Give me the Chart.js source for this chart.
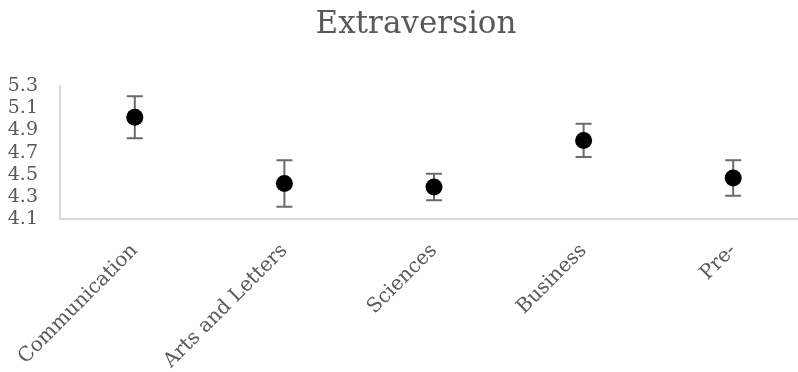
<!DOCTYPE html>
<html>
<head>
<meta charset="utf-8">
<script src="https://cdn.jsdelivr.net/npm/chart.js@4/dist/chart.umd.min.js"></script>
<style>
  body { margin: 0; background: #fff; overflow: hidden; }
  #wrap { width: 798px; height: 372px; overflow: hidden; }
</style>
</head>
<body>
<div id="wrap"><canvas id="myChart" width="808" height="372"></canvas></div>
<script>
const categories = ["Communication", "Arts and Letters", "Sciences", "Business", "Pre-"];
const means = [5.02, 4.42, 4.39, 4.81, 4.47];
const errors = [0.19, 0.21, 0.12, 0.15, 0.16];
const yMin = 4.1;
const yMax = 5.3;
const yStep = 0.2;

const textColor = "#595959";
const serif = "'DejaVu Serif', 'Liberation Serif', serif";

// draws the +/- error whiskers under each point
const errorBars = {
  id: "errorBars",
  afterLayout(chart) {
    // let the y labels use the space left of the title padding
    chart.scales.y.left = 0;
  },
  beforeDatasetsDraw(chart) {
    const ctx = chart.ctx;
    const x = chart.scales.x;
    const y = chart.scales.y;
    ctx.save();
    ctx.strokeStyle = "#6b6b6b";
    ctx.lineWidth = 2;
    means.forEach((m, i) => {
      const px = x.getPixelForValue(i);
      const top = y.getPixelForValue(m + errors[i]);
      const bot = y.getPixelForValue(m - errors[i]);
      ctx.beginPath();
      ctx.moveTo(px, top);
      ctx.lineTo(px, bot);
      ctx.moveTo(px - 8, top);
      ctx.lineTo(px + 8, top);
      ctx.moveTo(px - 8, bot);
      ctx.lineTo(px + 8, bot);
      ctx.stroke();
    });
    ctx.restore();
  }
};

new Chart("myChart", {
  type: "line",
  data: {
    labels: categories,
    datasets: [{
      data: means,
      showLine: false,
      pointRadius: 8.5,
      pointHoverRadius: 8.5,
      pointBackgroundColor: "#000",
      pointBorderColor: "#000",
      pointBorderWidth: 0
    }]
  },
  options: {
    responsive: false,
    animation: false,
    layout: { autoPadding: false, padding: { left: 24, right: 0, top: 0, bottom: 0 } },
    plugins: {
      legend: { display: false },
      tooltip: { enabled: false },
      title: {
        display: true,
        text: "Extraversion",
        color: textColor,
        font: { family: serif, size: 31, weight: "normal" },
        padding: { top: 6, bottom: 43 }
      }
    },
    scales: {
      x: {
        offset: true,
        grid: { display: false, drawTicks: false },
        border: { color: "#d9d9d9", width: 2 },
        ticks: {
          color: textColor,
          font: { family: serif, size: 20 },
          minRotation: 45,
          maxRotation: 45,
          autoSkip: false,
          padding: 20
        },
        afterFit: (scale) => {
          scale.height = 153;
          scale.paddingLeft = 0;
          scale.paddingRight = 0;
        }
      },
      y: {
        min: yMin,
        max: yMax,
        grid: { display: false, drawTicks: false },
        border: { color: "#d9d9d9", width: 2 },
        ticks: {
          stepSize: yStep,
          autoSkip: false,
          color: textColor,
          font: { family: serif, size: 19 },
          padding: 22,
          callback: (v) => v.toFixed(1)
        },
        afterFit: (scale) => { scale.width = 36; }
      }
    }
  },
  plugins: [errorBars]
});
</script>
</body>
</html>
